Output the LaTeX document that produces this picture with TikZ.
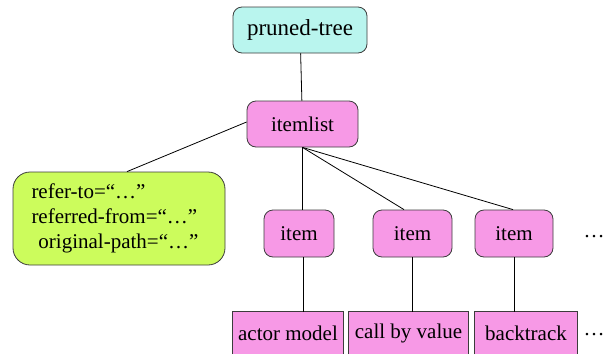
\documentclass[tikz,border=0pt]{standalone}
\usepackage{fontspec}
\newfontfamily\diagfont{Liberation Serif}
\usetikzlibrary{calc}

\definecolor{treecyan}{RGB}{185,245,238}
\definecolor{itempink}{RGB}{247,153,230}
\definecolor{attrgreen}{RGB}{204,252,92}
\definecolor{boxline}{RGB}{60,60,60}

\begin{document}
\begin{tikzpicture}[x=1pt, y=-1pt,
    box/.style={draw=boxline, line width=0.8pt, rounded corners=9pt, inner sep=0pt,
        font=\diagfont\fontsize{21}{25}\selectfont},
    leaf/.style={inner sep=0pt, fill=itempink, minimum height=42pt,
        font=\diagfont\fontsize{21}{25}\selectfont},
    leafrim/.style={draw=boxline, line width=0.8pt},
    more/.style={font=\diagfont\fontsize{21}{25}\selectfont},
    link/.style={draw=black, line width=0.8pt}]
    \useasboundingbox (0, 0) rectangle (605, 354);
    % nodes: tree itemlist attrs
    \node[box, fill=treecyan, minimum width=134pt, minimum height=46pt,
        font=\diagfont\fontsize{23}{27}\selectfont] (tree) at (300, 30) {pruned-tree};
    \node[box, fill=itempink, minimum width=111pt, minimum height=46pt] (itemlist) at (302.5, 124) {itemlist};
    \node[box, fill=attrgreen, rounded corners=17pt, text width=175pt, inner xsep=18.5pt,
        minimum height=93pt, align=left] (attrs) at (119, 218.5)
        {refer-to=“…”\\referred-from=“…”\\\ original-path=“…”};
    % nodes: item1 item2 item3
    \node[box, fill=itempink, minimum width=70pt, minimum height=47pt] (item1) at (299, 233.5) {item};
    \node[box, fill=itempink, minimum width=79pt, minimum height=47pt] (item2) at (412.5, 233.5) {item};
    \node[box, fill=itempink, minimum width=78pt, minimum height=47pt] (item3) at (514, 233.5) {item};
    \node[more] (dotsA) at (594, 237) {…};
    % nodes: leaf1 leaf2 leaf3 (cut off by the page bottom)
    \node[leaf, minimum width=110pt] (leaf1) at (288, 333) {actor model};
    \node[leaf, minimum width=119pt] (leaf2) at (408.5, 333) {call by value};
    \node[leaf, minimum width=102pt] (leaf3) at (526, 333) {backtrack};
    \node[more] (dotsB) at (594, 335) {…};
    \foreach \n in {leaf1, leaf2, leaf3}
        \draw[leafrim] (\n.south west) |- (\n.north east) -- (\n.south east);

    % edges: tree-itemlist, itemlist-attrs
    \draw[link] (tree) -- (itemlist);
    \draw[link] ([yshift=2]itemlist.west) -- ([xshift=8]attrs.north);
    % edges: itemlist-items
    \draw[link] (itemlist.south) -- (itemlist.south |- item1.north);
    \draw[link] (itemlist.south) -- ([xshift=-8.5]item2.north);
    \draw[link] (itemlist.south) -- ([xshift=-1]item3.north);
    % edges: items-leaves
    \draw[link] ([xshift=4]item1.south) -- ([xshift=4]item1.south |- leaf1.north);
    \draw[link] (item2.south) -- (item2.south |- leaf2.north);
    \draw[link] (item3.south) -- (item3.south |- leaf3.north);
\end{tikzpicture}
\end{document}
